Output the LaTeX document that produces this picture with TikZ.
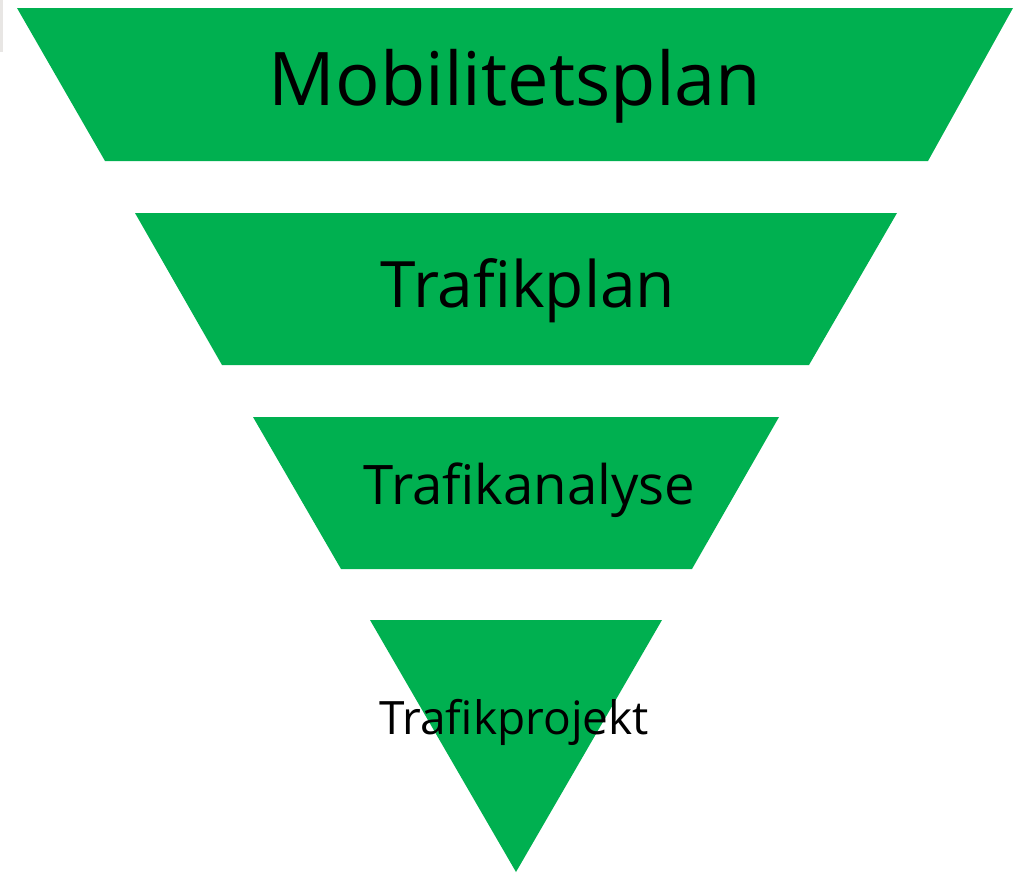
\documentclass[tikz,border=0pt]{standalone}
\usepackage{fontspec}
\setmainfont{Open Sans}
\definecolor{officegreen}{HTML}{00B050}
\definecolor{edgegray}{HTML}{E8E6E4}
\begin{document}
\begin{tikzpicture}[x=1pt,y=-1pt,
  tier/.style={fill=officegreen,draw=none},
  label/.style={anchor=base,inner sep=0pt,text=black}]
\useasboundingbox (0,0) rectangle (1013,879);
\fill[white] (0,0) rectangle (1013,879);
\fill[edgegray] (0,0) rectangle (3,52);
\fill[tier] (17,8) -- (1013,8) -- (928,161) -- (105,161) -- cycle;
\fill[tier] (135,213) -- (897,213) -- (809,365) -- (222,365) -- cycle;
\fill[tier] (253,417) -- (779,417) -- (692,569) -- (341,569) -- cycle;
\fill[tier] (370,620) -- (662,620) -- (516,872) -- cycle;
\node[label,font=\fontsize{74}{80}\selectfont] (mob) at (515,105) {Mobilitetsplan};
\node[label,font=\fontsize{64}{70}\selectfont] (plan) at (528,307) {Trafikplan};
\node[label,font=\fontsize{54.5}{60}\selectfont] (ana) at (529.5,504) {Trafikanalyse};
\node[label,font=\fontsize{46}{52}\selectfont] (proj) at (514,734) {Trafikprojekt};
\end{tikzpicture}
\end{document}
